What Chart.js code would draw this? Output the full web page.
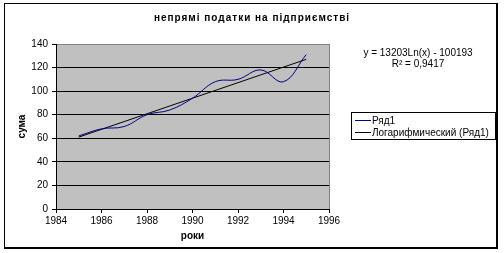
<!DOCTYPE html>
<html lang="uk">
  <head>
    <meta charset="UTF-8" />
    <title>непрямі податки на підприємстві</title>
    <script src="https://cdn.jsdelivr.net/npm/chart.js@4.4.1/dist/chart.umd.min.js"></script>
    <style>
      body { margin: 0; background: #fff; }
      canvas { display: block; }
    </style>
  </head>
  <body>
    <canvas id="myChart" width="504" height="253"></canvas>

    <script>
      // values
      const years = [1985, 1986, 1987, 1988, 1989, 1990, 1991, 1992, 1993, 1994, 1995];
      const values = [62, 68, 70, 80, 84, 94, 108, 110, 118, 108, 131];
      const trendYears = [1985, 1995];
      const trendValues = [61, 127];
      const seriesName = "Ряд1";
      const trendName = "Логарифмический (Ряд1)";
      const equation = ["y = 13203Ln(x) - 100193", "R² = 0,9417"];
      const chartTitle = "непрямі податки на підприємстві";
      const xTitle = "роки";
      const yTitle = "сума";

      const FONT = '"Liberation Sans", Arial, sans-serif';

      const extras = {
        id: "extras",
        beforeDraw(chart) {
          const ctx = chart.ctx;
          const a = chart.chartArea;
          ctx.save();
          ctx.fillStyle = "#fff";
          ctx.fillRect(0, 0, chart.width, chart.height);
          ctx.fillStyle = "#c0c0c0";
          ctx.fillRect(a.left, a.top, a.right - a.left, a.bottom - a.top);
          ctx.restore();
        },
        afterDraw(chart) {
          const ctx = chart.ctx;
          ctx.save();
          // outer frame
          ctx.fillStyle = "#000";
          ctx.fillRect(4, 3, 494, 1);
          ctx.fillRect(4, 3, 1, 246);
          ctx.fillRect(496, 3, 2, 246);
          ctx.fillRect(4, 247, 494, 2);

          // title
          ctx.font = "bold 10px " + FONT;
          ctx.letterSpacing = "1px";
          ctx.textAlign = "center";
          ctx.textBaseline = "middle";
          ctx.fillText(chartTitle, 252, 18);
          ctx.letterSpacing = "0px";

          // trendline equation
          ctx.font = "10px " + FONT;
          ctx.fillText(equation[0], 418, 53);
          ctx.fillText(equation[1], 418, 64);

          // legend
          const ds = chart.data.datasets;
          ctx.fillStyle = "#fff";
          ctx.fillRect(351, 112, 145, 28);
          ctx.strokeStyle = "#000";
          ctx.lineWidth = 1;
          ctx.strokeRect(351.5, 112.5, 144, 27);
          ds.forEach((d, i) => {
            const y = 120 + i * 12;
            ctx.strokeStyle = d.borderColor;
            ctx.beginPath();
            ctx.moveTo(355, y + 0.5);
            ctx.lineTo(371, y + 0.5);
            ctx.stroke();
            ctx.fillStyle = "#000";
            ctx.textAlign = "left";
            ctx.fillText(d.label, 372, y + 1);
          });
          ctx.restore();
        },
      };

      const ctx = document.getElementById("myChart").getContext("2d");
      const myChart = new Chart(ctx, {
        type: "scatter",
        data: {
          datasets: [
            {
              label: seriesName,
              data: years.map((x, i) => ({ x: x, y: values[i] })),
              showLine: true,
              borderColor: "#000080",
              borderWidth: 1,
              pointRadius: 0,
              tension: 0.4,
            },
            {
              label: trendName,
              data: trendYears.map((x, i) => ({ x: x, y: trendValues[i] })),
              showLine: true,
              borderColor: "#000",
              borderWidth: 1,
              pointRadius: 0,
            },
          ],
        },
        options: {
          responsive: false,
          animation: false,
          events: [],
          layout: { padding: { top: 44, right: 175, bottom: 0, left: 0 } },
          plugins: {
            legend: { display: false },
            title: { display: false },
            tooltip: { enabled: false },
          },
          scales: {
            x: {
              type: "linear",
              min: 1984,
              max: 1996,
              afterFit: (s) => { s.height = 44; },
              ticks: {
                stepSize: 2,
                autoSkip: false,
                maxRotation: 0,
                padding: 2,
                color: "#000",
                font: { family: FONT, size: 10 },
                callback: (v) => String(v),
              },
              grid: {
                drawOnChartArea: true,
                color: (c) => (c.tick && c.tick.value === 1996 ? "#808080" : "rgba(0,0,0,0)"),
                tickColor: "#000",
                tickLength: 4,
              },
              border: { color: "#000", width: 1 },
              title: {
                display: true,
                text: xTitle,
                color: "#000",
                font: { family: FONT, size: 10, weight: "bold" },
                padding: { top: 0, bottom: 11 },
              },
            },
            y: {
              min: 0,
              max: 140,
              afterFit: (s) => { s.width = 56; },
              ticks: {
                stepSize: 20,
                padding: 4,
                color: "#000",
                font: { family: FONT, size: 10 },
              },
              grid: {
                color: (c) => (c.tick && c.tick.value === 140 ? "#808080" : "#000"),
                tickColor: "#000",
                tickLength: 4,
              },
              border: { color: "#000", width: 1 },
              title: {
                display: true,
                text: yTitle,
                color: "#000",
                font: { family: FONT, size: 10, weight: "bold" },
                padding: { top: 16, bottom: 0 },
              },
            },
          },
        },
        plugins: [extras],
      });
    </script>
  </body>
</html>
